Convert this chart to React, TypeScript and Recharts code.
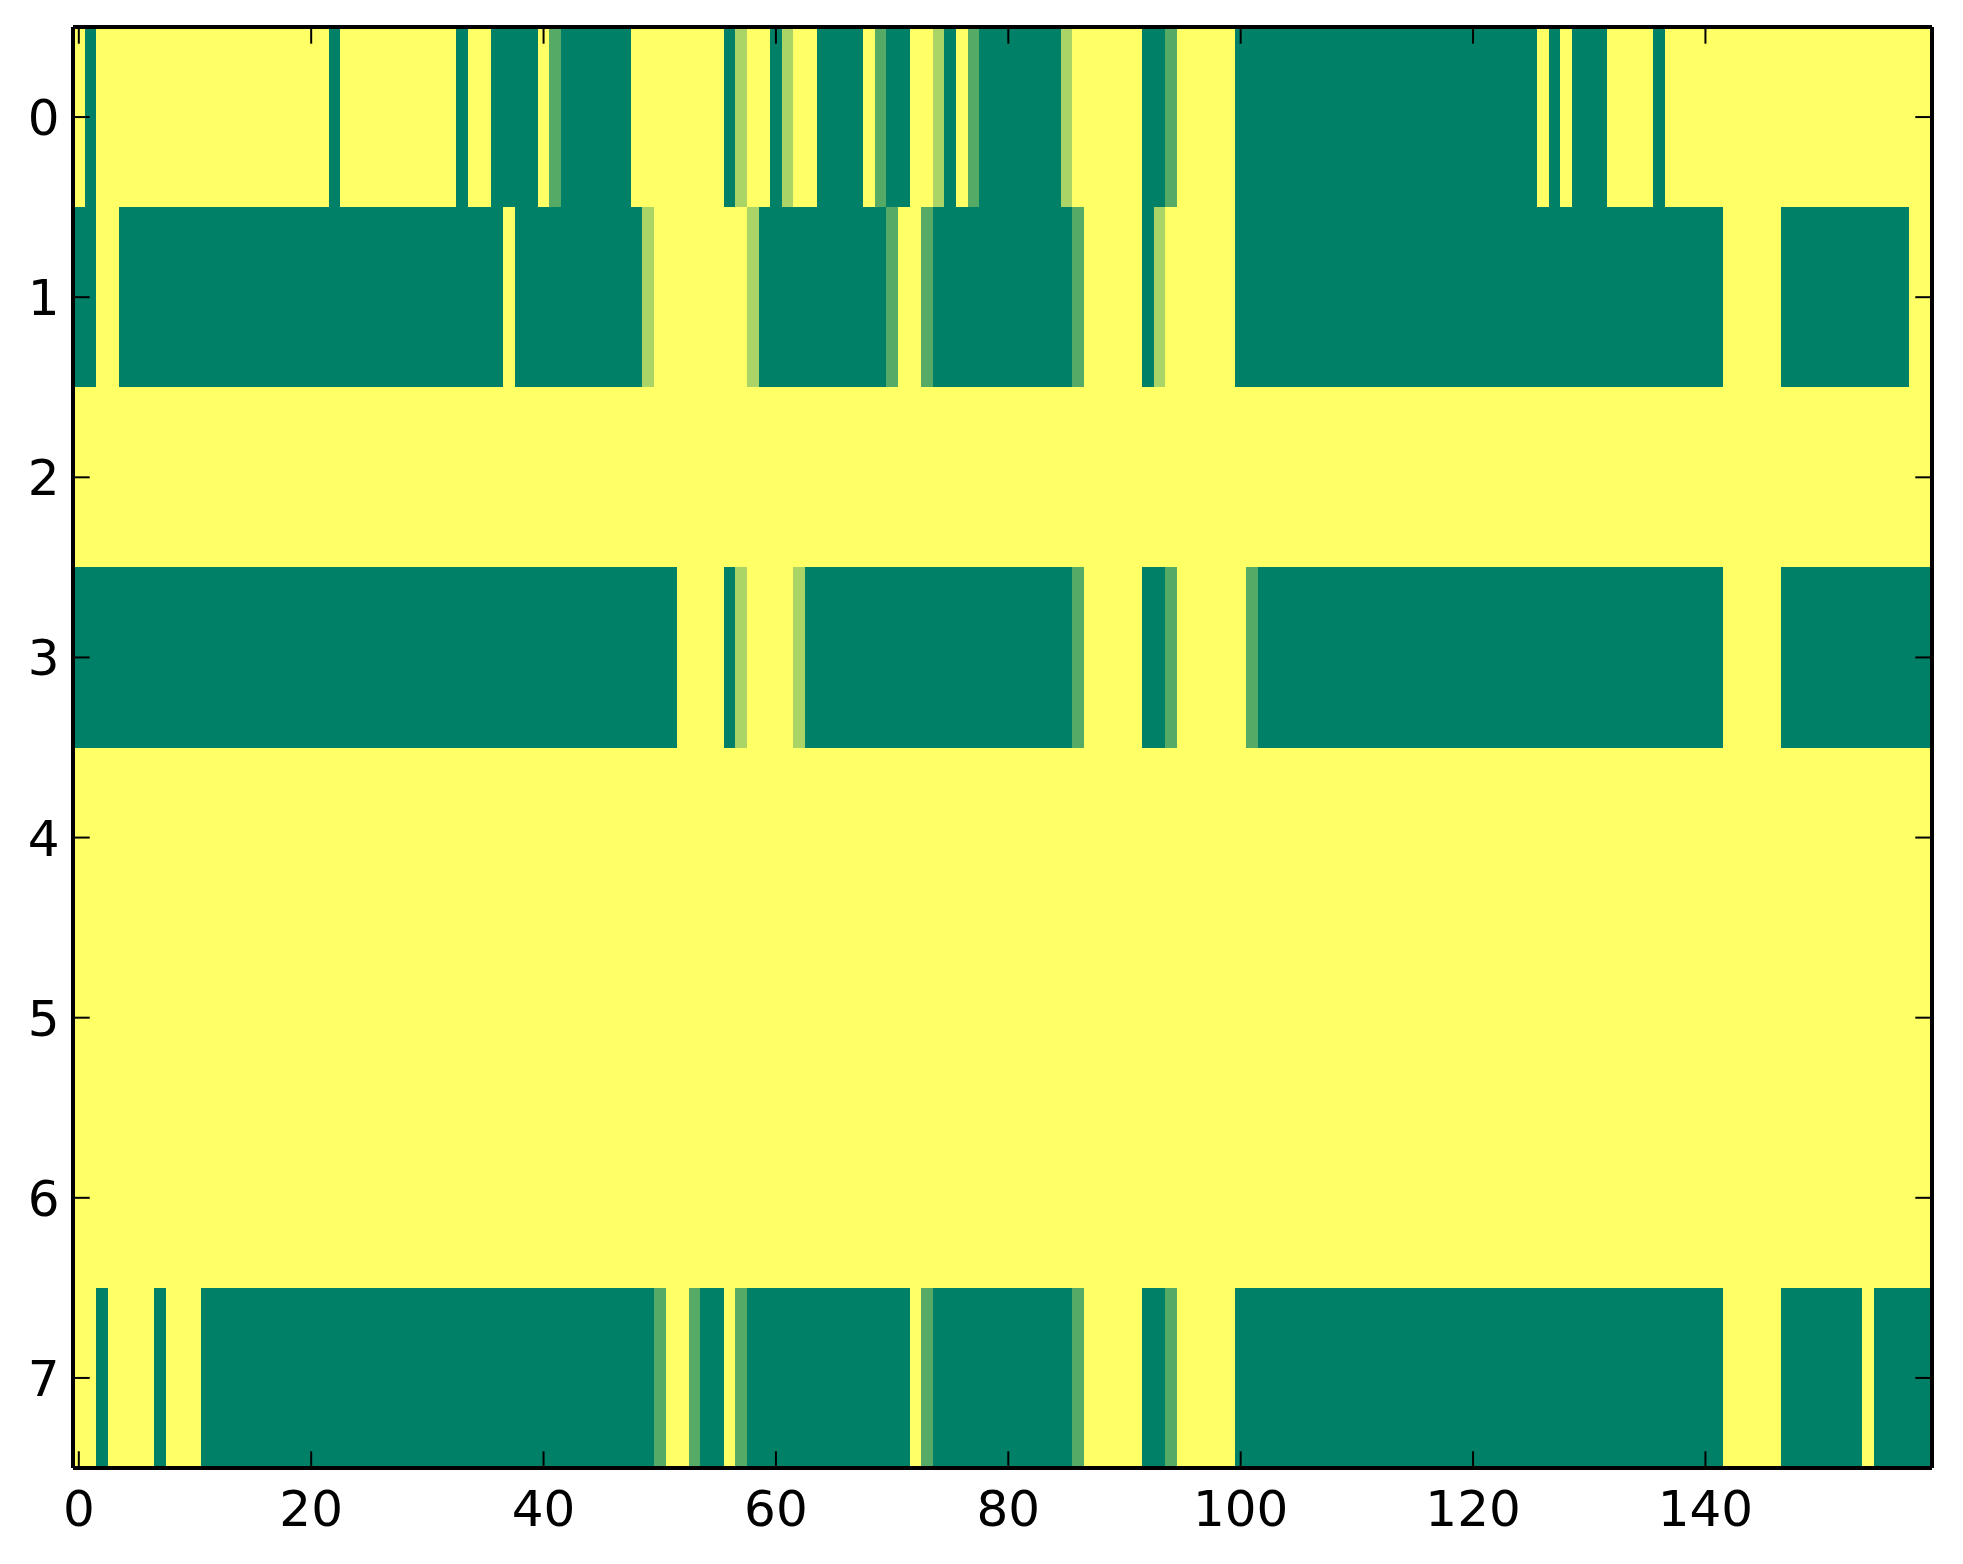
import React from "react";
import { ScatterChart, Scatter, XAxis, YAxis } from "recharts";

// level codes per column: 0 -> 0.0, 1 -> 1/3, 2 -> 2/3, 3 -> 1.0 (summer colormap)
const ROW_0 = [
  "3033333333", "3333333333", "3303333333", "3330330000",
  "3100000033", "3333330233", "0233000031", "0033203100",
  "0000023333", "3300133333", "0000000000", "0000000000",
  "0000003030", "0033330333", "3333333333", "3333333333",
];
const ROW_1 = [
  "0033000000", "0000000000", "0000000000", "0000000300",
  "0000000002", "3333333320", "0000000000", "1331000000",
  "0000001333", "3302333333", "0000000000", "0000000000",
  "0000000000", "0000000000", "0033333000", "0000000033",
];
const ROW_2 = [
  "3333333333", "3333333333", "3333333333", "3333333333",
  "3333333333", "3333333333", "3333333333", "3333333333",
  "3333333333", "3333333333", "3333333333", "3333333333",
  "3333333333", "3333333333", "3333333333", "3333333333",
];
const ROW_3 = [
  "0000000000", "0000000000", "0000000000", "0000000000",
  "0000000000", "0033330233", "3320000000", "0000000000",
  "0000001333", "3300133333", "3100000000", "0000000000",
  "0000000000", "0000000000", "0033333000", "0000000000",
];
const ROW_4 = ROW_2;
const ROW_5 = ROW_2;
const ROW_6 = ROW_2;
const ROW_7 = [
  "3303333033", "3000000000", "0000000000", "0000000000",
  "0000000000", "1331003100", "0000000000", "0031000000",
  "0000001333", "3300133333", "0000000000", "0000000000",
  "0000000000", "0000000000", "0033333000", "0000300000",
];

const ROWS = [ROW_0, ROW_1, ROW_2, ROW_3, ROW_4, ROW_5, ROW_6, ROW_7];
const Y_TICKS = [0, 1, 2, 3, 4, 5, 6, 7];
const X_TICKS = [0, 20, 40, 60, 80, 100, 120, 140];
const N_COLS = 160;

const cells: { x: number; y: number; v: number }[] = [];
ROWS.forEach((row, r) => {
  row.join("").split("").forEach((ch, c) => {
    cells.push({ x: c, y: r, v: Number(ch) / 3 });
  });
});

// matplotlib "summer"
const summer = (t: number) =>
  `rgb(${Math.round(255 * t)},${Math.round(255 * (0.5 + t / 2))},102)`;

const W = 1963;
const H = 1564;
const M_TOP = 27;
const M_RIGHT = 31;
const Y_W = 73;
const X_H = 96;
const PLOT_W = W - Y_W - M_RIGHT;
const PLOT_H = H - M_TOP - X_H;
const CELL_W = PLOT_W / N_COLS;
const CELL_H = PLOT_H / ROWS.length;
const TICK = 16.7;
const FONT = "'DejaVu Sans', sans-serif";

const X_DOMAIN: [number, number] = [-0.5, N_COLS - 0.5];
const Y_DOMAIN: [number, number] = [-0.5, ROWS.length - 0.5];

const CellShape = (props: any) => (
  <rect
    x={props.cx - CELL_W / 2}
    y={props.cy - CELL_H / 2}
    width={CELL_W + 0.5}
    height={CELL_H + 0.5}
    fill={summer(props.payload.v)}
    shapeRendering="crispEdges"
  />
);

const NoShape = () => <g />;

const BottomTick = ({ x, y, payload }: any) => (
  <g>
    <line x1={x} x2={x} y1={y} y2={y - TICK} stroke="#000" strokeWidth={2} />
    <text x={x} y={y + 58} textAnchor="middle" fontSize={50} fontFamily={FONT} fill="#000">
      {payload.value}
    </text>
  </g>
);

const TopTick = ({ x, y }: any) => (
  <line x1={x} x2={x} y1={y} y2={y + TICK} stroke="#000" strokeWidth={2} />
);

const LeftTick = ({ x, y, payload }: any) => (
  <g>
    <line x1={x} x2={x + TICK} y1={y} y2={y} stroke="#000" strokeWidth={2} />
    <text x={x - 13.5} y={y} dy="0.36em" textAnchor="end" fontSize={50} fontFamily={FONT} fill="#000">
      {payload.value}
    </text>
  </g>
);

const RightTick = ({ x, y }: any) => (
  <line x1={x} x2={x - TICK} y1={y} y2={y} stroke="#000" strokeWidth={2} />
);

const frame = { stroke: "#000", strokeWidth: 4 };
const layer: React.CSSProperties = { position: "absolute", left: 0, top: 0 };

export default function App() {
  return (
    <div style={{ position: "absolute", left: 0, top: 0, width: W, height: H, background: "#fff" }}>
      {/* image cells */}
      <div style={layer}>
        <ScatterChart
          width={W}
          height={H}
          margin={{ top: M_TOP, right: M_RIGHT, bottom: X_H, left: Y_W }}
        >
          <XAxis type="number" dataKey="x" domain={X_DOMAIN} allowDataOverflow hide />
          <YAxis type="number" dataKey="y" domain={Y_DOMAIN} allowDataOverflow reversed hide />
          <Scatter data={cells} shape={CellShape} isAnimationActive={false} />
        </ScatterChart>
      </div>
      {/* frame, ticks and labels on top */}
      <div style={layer}>
        <ScatterChart
          width={W}
          height={H}
          margin={{ top: M_TOP - 1, right: M_RIGHT - 1, bottom: 0, left: 0 }}
        >
          <XAxis
            type="number"
            dataKey="x"
            domain={X_DOMAIN}
            allowDataOverflow
            ticks={X_TICKS}
            interval={0}
            height={X_H}
            tickSize={0}
            tickMargin={0}
            tickLine={false}
            axisLine={frame}
            tick={<BottomTick />}
          />
          <XAxis
            xAxisId="top"
            orientation="top"
            type="number"
            dataKey="x"
            domain={X_DOMAIN}
            allowDataOverflow
            ticks={X_TICKS}
            interval={0}
            height={1}
            tickSize={0}
            tickMargin={0}
            tickLine={false}
            axisLine={frame}
            tick={<TopTick />}
          />
          <YAxis
            type="number"
            dataKey="y"
            domain={Y_DOMAIN}
            allowDataOverflow
            reversed
            ticks={Y_TICKS}
            interval={0}
            width={Y_W}
            tickSize={0}
            tickMargin={0}
            tickLine={false}
            axisLine={frame}
            tick={<LeftTick />}
          />
          <YAxis
            yAxisId="right"
            orientation="right"
            type="number"
            dataKey="y"
            domain={Y_DOMAIN}
            allowDataOverflow
            reversed
            ticks={Y_TICKS}
            interval={0}
            width={1}
            tickSize={0}
            tickMargin={0}
            tickLine={false}
            axisLine={frame}
            tick={<RightTick />}
          />
          <Scatter data={cells} shape={NoShape} isAnimationActive={false} />
          <Scatter
            data={cells}
            xAxisId="top"
            yAxisId="right"
            shape={NoShape}
            isAnimationActive={false}
          />
        </ScatterChart>
      </div>
    </div>
  );
}
